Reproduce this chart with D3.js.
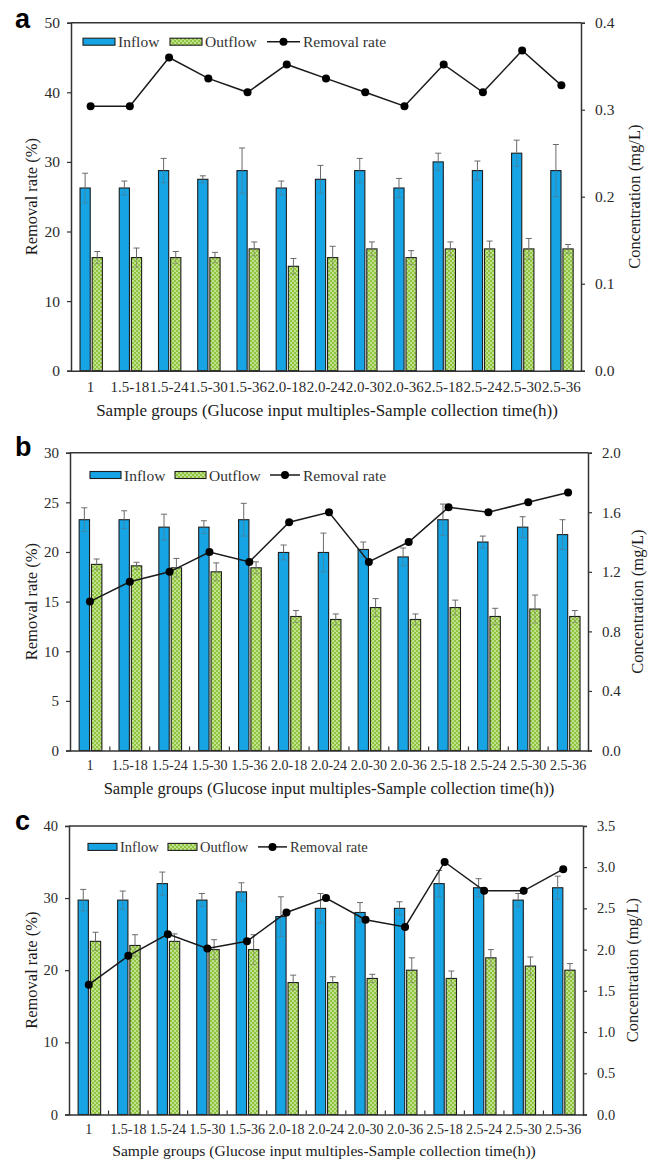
<!DOCTYPE html>
<html><head><meta charset="utf-8">
<script src="https://cdn.jsdelivr.net/npm/d3@7"></script>
<style>body{margin:0;background:#fff}svg{display:block}</style>
</head><body>
<script>
const categories = ["1","1.5-18","1.5-24","1.5-30","1.5-36","2.0-18","2.0-24","2.0-30","2.0-36","2.5-18","2.5-24","2.5-30","2.5-36"];
const seriesNames = ["Inflow","Outflow","Removal rate"];
const xTitle = "Sample groups (Glucose input multiples-Sample collection time(h))";
const yLeftTitle = "Removal rate (%)";
const yRightTitle = "Concentration (mg/L)";

// Panel a
const inflowA     = [0.21,0.21,0.23,0.22,0.23,0.21,0.22,0.23,0.21,0.24,0.23,0.25,0.23];
const inflowErrA  = [0.017,0.008,0.014,0.004,0.026,0.008,0.016,0.014,0.011,0.010,0.011,0.015,0.030];
const outflowA    = [0.13,0.13,0.13,0.13,0.14,0.12,0.13,0.14,0.13,0.14,0.14,0.14,0.14];
const outflowErrA = [0.007,0.011,0.007,0.006,0.008,0.009,0.013,0.008,0.008,0.008,0.009,0.012,0.005];
const removalA    = [38,38,45,42,40,44,42,40,38,44,40,46,41];
const leftTicksA  = [0,10,20,30,40,50];
const rightTicksA = [0,0.1,0.2,0.3,0.4];

// Panel b
const inflowB     = [1.55,1.55,1.50,1.50,1.55,1.33,1.33,1.35,1.30,1.55,1.40,1.50,1.45];
const inflowErrB  = [0.08,0.06,0.087,0.043,0.11,0.05,0.13,0.05,0.06,0.105,0.04,0.07,0.10];
const outflowB    = [1.25,1.24,1.227,1.20,1.227,0.90,0.88,0.96,0.88,0.96,0.90,0.95,0.90];
const outflowErrB = [0.036,0.024,0.063,0.06,0.04,0.04,0.037,0.06,0.037,0.05,0.055,0.094,0.04];
const removalB    = [15,17,18,20,19,23,24,19,21,24.5,24,25,26];
const leftTicksB  = [0,5,10,15,20,25,30];
const rightTicksB = [0,0.4,0.8,1.2,1.6,2.0];

// Panel c
const inflowC     = [2.60,2.60,2.80,2.60,2.70,2.40,2.50,2.45,2.50,2.80,2.75,2.60,2.75];
const inflowErrC  = [0.13,0.11,0.14,0.08,0.11,0.24,0.18,0.12,0.08,0.16,0.11,0.08,0.14];
const outflowC    = [2.10,2.05,2.10,2.00,2.00,1.60,1.60,1.65,1.75,1.65,1.90,1.80,1.75];
const outflowErrC = [0.11,0.13,0.09,0.12,0.18,0.09,0.07,0.05,0.15,0.09,0.10,0.11,0.08];
const removalC    = [18,22,25,23,24,28,30,27,26,35,31,31,34];
const leftTicksC  = [0,10,20,30,40];
const rightTicksC = [0,0.5,1.0,1.5,2.0,2.5,3.0,3.5];

const W = 652, H = 1161;
const svg = d3.select("body").append("svg").attr("width", W).attr("height", H);
const defs = svg.append("defs");
const pat = defs.append("pattern").attr("id","chk").attr("patternUnits","userSpaceOnUse")
  .attr("width",4).attr("height",4);
pat.append("rect").attr("width",4).attr("height",4).attr("fill","#8cc63f");
pat.append("rect").attr("x",0).attr("y",0).attr("width",2).attr("height",2).attr("fill","#c4e08f");
pat.append("rect").attr("x",2).attr("y",2).attr("width",2).attr("height",2).attr("fill","#c4e08f");

const SERIF = "'Liberation Serif','Times New Roman',serif";
const INFLOW_COLOR = "#16a4e4";

function drawPanel(cfg) {
  const g = svg.append("g");
  const {left, right, top, bottom} = cfg;
  const x = d3.scaleBand().domain(categories).range([left, right]).padding(0);
  const bw = x.bandwidth();
  const xi = d3.scaleBand().domain(["Inflow","Outflow"]).range([bw*0.23, bw*0.80]).paddingInner(0.16);
  const yL = d3.scaleLinear().domain([0, cfg.leftMax]).range([bottom, top]);
  const yR = d3.scaleLinear().domain([0, cfg.rightMax]).range([bottom, top]);

  const rows = categories.map((c,i)=>({c, inflow: cfg.inflow[i], inErr: cfg.inflowErr[i],
    outflow: cfg.outflow[i], outErr: cfg.outflowErr[i], rate: cfg.removal[i]}));

  const bars = [];
  rows.forEach(r=>{
    bars.push({c:r.c, k:"Inflow", v:r.inflow, e:r.inErr});
    bars.push({c:r.c, k:"Outflow", v:r.outflow, e:r.outErr});
  });
  g.selectAll("rect.bar").data(bars).enter().append("rect")
    .attr("x", d=>x(d.c)+xi(d.k)).attr("width", xi.bandwidth())
    .attr("y", d=>yR(d.v)).attr("height", d=>yR(0)-yR(d.v))
    .attr("fill", d=>d.k==="Inflow"?INFLOW_COLOR:"url(#chk)")
    .attr("stroke","#1e1e1e").attr("stroke-width",1.1);

  const eg = g.append("g").attr("stroke","#6a6a6a").attr("stroke-width",1);
  bars.forEach(d=>{
    const cx = x(d.c)+xi(d.k)+xi.bandwidth()/2;
    eg.append("line").attr("x1",cx).attr("x2",cx).attr("y1",yR(d.v+d.e)).attr("y2",yR(d.v));
    eg.append("line").attr("x1",cx-3).attr("x2",cx+3).attr("y1",yR(d.v+d.e)).attr("y2",yR(d.v+d.e));
    eg.append("line").attr("x1",cx).attr("x2",cx).attr("y1",yR(d.v)).attr("y2",yR(d.v-d.e)).attr("opacity",0.45);
    eg.append("line").attr("x1",cx-3).attr("x2",cx+3).attr("y1",yR(d.v-d.e)).attr("y2",yR(d.v-d.e)).attr("opacity",0.45);
  });

  const line = d3.line().x(d=>x(d.c)+bw/2).y(d=>yL(d.rate));
  g.append("path").datum(rows).attr("d",line).attr("fill","none").attr("stroke","#1a1a1a").attr("stroke-width",1.5);
  g.selectAll("circle.pt").data(rows).enter().append("circle")
    .attr("cx", d=>x(d.c)+bw/2).attr("cy", d=>yL(d.rate)).attr("r",4).attr("fill","#000");

  const axL = d3.axisLeft(yL).tickValues(cfg.leftTicks).tickSize(4).tickPadding(7).tickFormat(d3.format("d"));
  const axR = d3.axisRight(yR).tickValues(cfg.rightTicks).tickSize(4).tickPadding(10).tickFormat(d3.format(".1f"));
  const axB = d3.axisBottom(x).tickSizeOuter(0).tickSizeInner(0).tickPadding(cfg.xPad);
  const gl = g.append("g").attr("transform",`translate(${left},0)`).call(axL);
  const gr = g.append("g").attr("transform",`translate(${right},0)`).call(axR);
  const gb = g.append("g").attr("transform",`translate(0,${bottom})`).call(axB);
  [gl,gr,gb].forEach(a=>{
    a.select(".domain").attr("stroke","#333").attr("stroke-width",1.5);
    a.selectAll(".tick line").attr("stroke","#333").attr("stroke-width",1.2);
    a.selectAll("text").attr("font-family",SERIF).attr("fill","#2a2a2a");
  });
  gl.selectAll("text").attr("font-size",cfg.tickFs);
  gr.selectAll("text").attr("font-size",cfg.tickFs);
  gb.selectAll("text").attr("font-size",cfg.xFs);
  if (cfg.xTicks) {
    categories.slice(1).forEach(c=>{
      g.append("line").attr("x1",x(c)).attr("x2",x(c)).attr("y1",bottom).attr("y2",bottom-4)
        .attr("stroke","#333").attr("stroke-width",1.2);
    });
  }
  g.append("line").attr("x1",left).attr("x2",right).attr("y1",top).attr("y2",top)
    .attr("stroke","#333").attr("stroke-width",1.5);

  g.append("text").attr("x",(left+right)/2 + cfg.titleDx).attr("y",cfg.titleY).attr("text-anchor","middle")
    .attr("font-family",SERIF).attr("font-size",cfg.titleFs).attr("fill","#1a1a1a").text(xTitle);
  g.append("text").attr("transform",`translate(${cfg.yLX},${(top+bottom)/2}) rotate(-90)`)
    .attr("text-anchor","middle").attr("dominant-baseline","central")
    .attr("font-family",SERIF).attr("font-size",16.5).attr("fill","#1a1a1a").text(yLeftTitle);
  g.append("text").attr("transform",`translate(${cfg.yRX},${(top+bottom)/2}) rotate(-90)`)
    .attr("text-anchor","middle").attr("dominant-baseline","central")
    .attr("font-family",SERIF).attr("font-size",16.5).attr("fill","#1a1a1a").text(yRightTitle);

  g.append("text").attr("x",15).attr("y",cfg.letterY).attr("font-family","'Liberation Sans',Arial,sans-serif")
    .attr("font-weight","bold").attr("font-size",27).attr("fill","#000").text(cfg.letter);

  const L = cfg.legend, ly = top + L.dy;
  const lg = g.append("g").attr("font-family",SERIF).attr("font-size",L.fs).attr("fill","#333");
  lg.append("rect").attr("x",L.x[0]).attr("y",ly-3.5).attr("width",L.sw).attr("height",7)
    .attr("fill",INFLOW_COLOR).attr("stroke","#1e1e1e").attr("stroke-width",1.1);
  lg.append("text").attr("x",L.x[0]+L.sw+3).attr("y",ly).attr("dominant-baseline","central").text(seriesNames[0]);
  lg.append("rect").attr("x",L.x[1]).attr("y",ly-3.5).attr("width",L.sw).attr("height",7)
    .attr("fill","url(#chk)").attr("stroke","#1e1e1e").attr("stroke-width",1.1);
  lg.append("text").attr("x",L.x[1]+L.sw+3).attr("y",ly).attr("dominant-baseline","central").text(seriesNames[1]);
  lg.append("line").attr("x1",L.x[2]).attr("x2",L.x[2]+L.lw).attr("y1",ly).attr("y2",ly)
    .attr("stroke","#1a1a1a").attr("stroke-width",1.5);
  lg.append("circle").attr("cx",L.x[2]+L.lw/2).attr("cy",ly).attr("r",4).attr("fill","#000");
  lg.append("text").attr("x",L.x[2]+L.lw+3).attr("y",ly).attr("dominant-baseline","central").text(seriesNames[2]);
}

drawPanel({letter:"a", letterY:28, left:71, right:581, top:22.7, bottom:370.7,
  leftMax:50, rightMax:0.4, leftTicks:leftTicksA, rightTicks:rightTicksA,
  inflow:inflowA, inflowErr:inflowErrA, outflow:outflowA, outflowErr:outflowErrA, removal:removalA,
  tickFs:15.5, xFs:15, xPad:11, xTicks:false, titleY:416, titleFs:17, titleDx:1, yLX:31, yRX:634,
  legend:{dy:19, x:[83,170,267], sw:32, lw:33, fs:15.5}});

drawPanel({letter:"b", letterY:456, left:70, right:588, top:452.7, bottom:750.5,
  leftMax:30, rightMax:2.0, leftTicks:leftTicksB, rightTicks:rightTicksB,
  inflow:inflowB, inflowErr:inflowErrB, outflow:outflowB, outflowErr:outflowErrB, removal:removalB,
  tickFs:15, xFs:14, xPad:10, xTicks:true, titleY:794, titleFs:16.6, titleDx:0, yLX:31, yRX:637,
  legend:{dy:22.3, x:[90,175,270], sw:31, lw:30, fs:15.5}});

drawPanel({letter:"c", letterY:830, left:69, right:583, top:825.9, bottom:1114.5,
  leftMax:40, rightMax:3.5, leftTicks:leftTicksC, rightTicks:rightTicksC,
  inflow:inflowC, inflowErr:inflowErrC, outflow:outflowC, outflowErr:outflowErrC, removal:removalC,
  tickFs:14.5, xFs:14, xPad:10, xTicks:true, titleY:1156, titleFs:15.6, titleDx:-2, yLX:31, yRX:632,
  legend:{dy:21, x:[88,168,258], sw:29, lw:29, fs:14.5}});
</script>
</body></html>
